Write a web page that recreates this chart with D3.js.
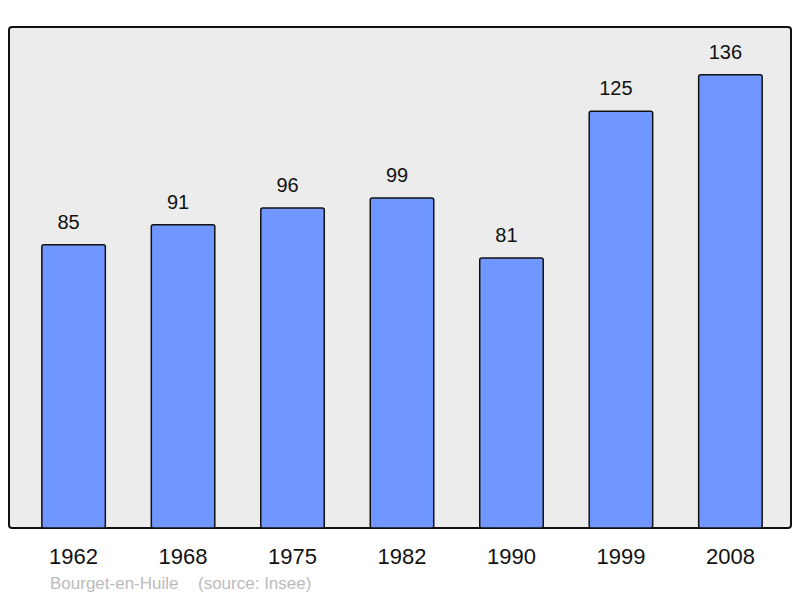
<!DOCTYPE html>
<html lang="en">
	<head>
		<meta charset="utf-8">
		<title>Bourget-en-Huile</title>
		<script type="text/javascript" src="https://cdn.jsdelivr.net/npm/d3@7"></script>
		<style type="text/css">
			body { margin: 0; background: #fff; }
			text { font-family: "Liberation Sans", Arial, sans-serif; }
		</style>
	</head>
	<body>
		<script type="text/javascript">
			var w = 800;
			var h = 598;

			var years = ["1962", "1968", "1975", "1982", "1990", "1999", "2008"];
			var population = [85, 91, 96, 99, 81, 125, 136];
			var yMax = 150;

			var frame = { left: 9, right: 791, top: 27, bottom: 528 };

			var xScale = d3.scaleBand()
				.domain(years)
				.range([frame.left, 795])
				.paddingInner(0.42)
				.paddingOuter(0.3);

			var yScale = d3.scaleLinear()
				.domain([0, yMax])
				.range([frame.bottom, frame.bottom - yMax * 3.3333]);

			var svg = d3.select("body")
				.append("svg")
				.attr("width", w)
				.attr("height", h);

			//Plot frame
			svg.append("rect")
				.attr("x", frame.left)
				.attr("y", frame.top)
				.attr("width", frame.right - frame.left)
				.attr("height", frame.bottom - frame.top)
				.attr("rx", 3)
				.attr("fill", "#ececec")
				.attr("stroke", "#111")
				.attr("stroke-width", 2);

			//Bars
			svg.selectAll("rect.bar")
				.data(population)
				.enter()
				.append("rect")
				.attr("class", "bar")
				.attr("x", function(d, i) { return xScale(years[i]); })
				.attr("y", function(d) { return yScale(d); })
				.attr("width", xScale.bandwidth())
				.attr("height", function(d) { return frame.bottom - yScale(d); })
				.attr("rx", 2)
				.attr("fill", "#7096ff")
				.attr("stroke", "#111")
				.attr("stroke-width", 1.5);

			//Value labels (sit a little left of the bar centre in the original)
			svg.selectAll("text.value")
				.data(population)
				.enter()
				.append("text")
				.attr("class", "value")
				.attr("x", function(d, i) { return xScale(years[i]) + xScale.bandwidth() / 2 - 5; })
				.attr("y", function(d) { return yScale(d) - 16; })
				.attr("text-anchor", "middle")
				.attr("font-size", 20)
				.attr("fill", "#111")
				.text(function(d) { return d; });

			//Year axis
			var xAxis = d3.axisBottom(xScale).tickSize(0).tickPadding(0);
			var gx = svg.append("g")
				.attr("transform", "translate(0," + frame.bottom + ")")
				.call(xAxis);
			gx.select(".domain").remove();
			gx.selectAll("text")
				.attr("y", 36)
				.attr("dy", null)
				.attr("font-size", 22)
				.attr("font-family", "Liberation Sans, Arial, sans-serif")
				.attr("fill", "#111");

			//Source note
			svg.append("text")
				.attr("x", 50)
				.attr("y", 589)
				.attr("font-size", 17)
				.attr("fill", "#bbbbbb")
				.text("Bourget-en-Huile");
			svg.append("text")
				.attr("x", 198)
				.attr("y", 589)
				.attr("font-size", 17)
				.attr("fill", "#bbbbbb")
				.text("(source: Insee)");
		</script>
	</body>
</html>
